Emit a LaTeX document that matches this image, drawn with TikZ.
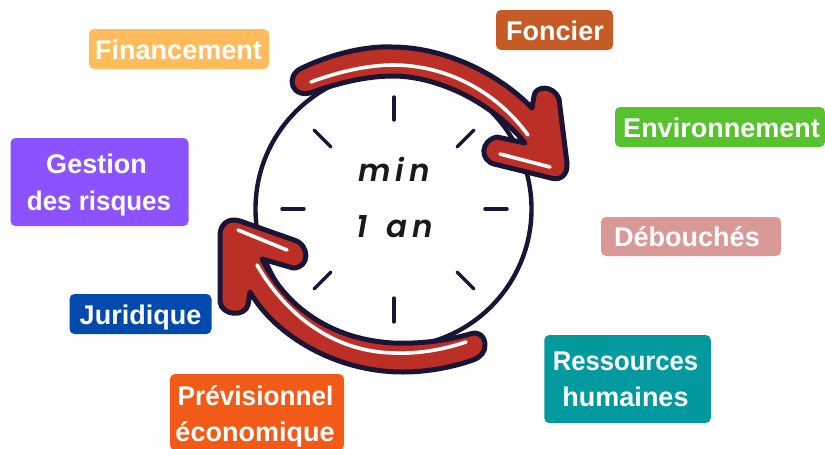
\documentclass[tikz,border=0pt]{standalone}
\usepackage{fontspec}
\setmainfont{Liberation Sans}
\newfontfamily\dialfont[BoldItalicFont={Poppins SemiBold Italic}]{Poppins}
\definecolor{ink}{HTML}{1B1535}
\definecolor{arrowred}{HTML}{BC2F26}
\definecolor{cA}{HTML}{FFBC5C}\definecolor{cB}{HTML}{C75B26}\definecolor{cC}{HTML}{57C22E}
\definecolor{cD}{HTML}{D99A97}\definecolor{cE}{HTML}{029A9F}\definecolor{cF}{HTML}{F15A17}
\definecolor{cG}{HTML}{004AAD}\definecolor{cH}{HTML}{8C52FF}
\tikzset{
  x=1pt,y=-1pt,
  tag box/.style={rounded corners=5pt,inner sep=0pt,anchor=center},
  tag text/.style={text=white,font=\fontsize{27}{36}\selectfont\bfseries,align=center,inner sep=0pt,anchor=base},
  tick/.style={draw=ink,line width=3.4pt,line cap=round},
  bigarrow/.style={draw=ink,fill=arrowred,line width=5pt,line join=round},
  shine/.style={draw=white,line width=3.6pt,line cap=round},
  dial text/.style={font=\dialfont\fontsize{31}{36}\selectfont\bfseries\itshape,text=black!90}
}
\begin{document}
\begin{tikzpicture}
\useasboundingbox (0,0) rectangle (825,448);
% label boxes
\node[tag box,fill=cA,minimum width=180pt,minimum height=40pt] (finbox) at (179,49) {};
\node[tag box,fill=cB,minimum width=117pt,minimum height=40pt] (fonbox) at (554.5,30) {};
\node[tag box,fill=cC,minimum width=210pt,minimum height=40pt] (envbox) at (720,127) {};
\node[tag box,fill=cD,minimum width=180pt,minimum height=39pt] (debbox) at (691,236.5) {};
\node[tag box,fill=cE,minimum width=166.5pt,minimum height=88pt] (resbox) at (627.5,379) {};
\node[tag box,fill=cF,minimum width=174pt,minimum height=76pt] (prebox) at (257,412) {};
\node[tag box,fill=cG,minimum width=142pt,minimum height=40pt] (jurbox) at (140.5,314) {};
\node[tag box,fill=cH,minimum width=178pt,minimum height=88pt] (gesbox) at (99.5,182) {};
% label texts
\node[tag text] (fin) at (178.5,59) {Financement};
\node[tag text] (fon) at (555,40) {Foncier};
\node[tag text] (env) at (721.5,137) {Environnement};
\node[tag text] (deb) at (687,246) {Débouchés};
\node[tag text] (res1) at (625.5,370) {\scalebox{0.95}[1]{Ressources}};
\node[tag text] (res2) at (625.5,406) {humaines};
\node[tag text] (pre1) at (255.5,405) {\scalebox{0.97}[1]{Prévisionnel}};
\node[tag text] (pre2) at (255,441) {économique};
\node[tag text] (jur) at (140.5,324) {Juridique};
\node[tag text] (ges1) at (96.5,173) {Gestion};
\node[tag text] (ges2) at (99,210) {\scalebox{0.96}[1]{des risques}};
% clock
\draw[ink,line width=4.4pt] (393.5,209) circle[radius=138];
\draw[tick] (394,97)--(394,120);
\draw[tick] (394,298)--(394,322);
\draw[tick] (282,209)--(304,209);
\draw[tick] (485,209)--(507,209);
\draw[tick] (314,130)--(331,147);
\draw[tick] (474,130)--(457,147);
\draw[tick] (314,289)--(331,272);
\draw[tick] (474,289)--(457,272);
\node[dial text] (mn) at (394,169) {m\,i\,n};
\node[dial text] (an) at (395,227) {1\,\, a\,n};
% upper arrow
\path[bigarrow] (302,68) .. controls (340,50) and (375,46) .. (392,47)
  .. controls (440,47) and (495,70) .. (532,108)
  -- (534,96) .. controls (535,86) and (553,84) .. (559,99)
  -- (567,163) .. controls (568,175) and (560,181) .. (551,178)
  -- (494,164) .. controls (480,160) and (480,141) .. (497,137)
  -- (525,143) .. controls (490,100) and (435,76) .. (393,76)
  .. controls (365,76) and (335,84) .. (313,92)
  .. controls (292,100) and (284,76) .. (302,68) -- cycle;
\draw[shine] (311,82) .. controls (340,71) and (370,65) .. (393,65)
  .. controls (445,65) and (495,90) .. (528,135);
\draw[shine] (500,154)--(550,167);
% lower arrow
\path[bigarrow] (470,334) .. controls (445,341) and (420,344) .. (393,343)
  .. controls (340,340) and (290,315) .. (262,259)
  -- (293,268) .. controls (310,268) and (310,245) .. (294,240)
  -- (240,221) .. controls (228,217) and (220,225) .. (220,235)
  -- (220,302) .. controls (222,316) and (245,317) .. (248,305)
  -- (250,292) .. controls (275,335) and (335,372) .. (403,372)
  .. controls (425,372) and (450,368) .. (473,360)
  .. controls (481,357) and (485,352) .. (485,345)
  .. controls (485,336) and (478,331) .. (470,334) -- cycle;
\draw[shine] (257,265) .. controls (280,305) and (325,352) .. (395,353)
  .. controls (420,354) and (445,349) .. (466,342);
\draw[shine] (238,230)--(287,250);
\end{tikzpicture}
\end{document}
